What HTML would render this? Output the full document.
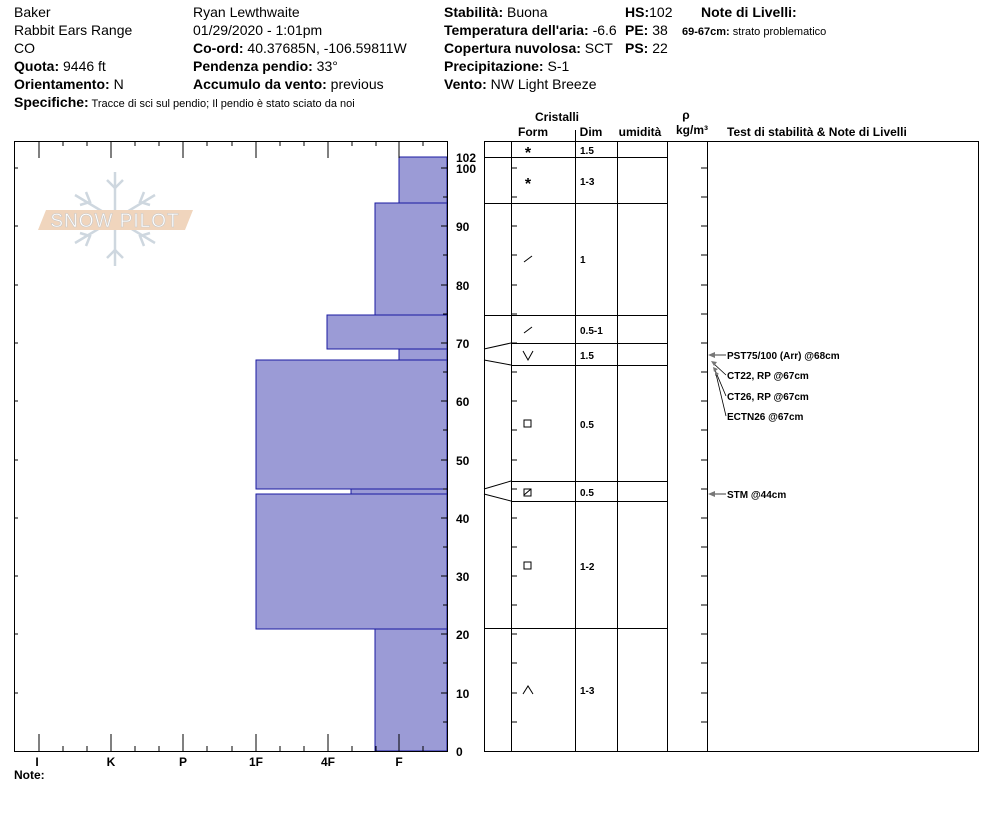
<!DOCTYPE html>
<html><head><meta charset="utf-8"><style>
body{margin:0;background:#fff;width:994px;height:840px;overflow:hidden}
svg{display:block}
text{font-family:"Liberation Sans",sans-serif;fill:#000}
.h{font-size:14px}
.b{font-weight:bold}
</style></head><body>
<svg width="994" height="840" viewBox="0 0 994 840">
<g class="h">
<text x="14" y="17">Baker</text>
<text x="14" y="35">Rabbit Ears Range</text>
<text x="14" y="53">CO</text>
<text x="14" y="71"><tspan class="b">Quota:</tspan> 9446 ft</text>
<text x="14" y="89"><tspan class="b">Orientamento:</tspan> N</text>
<text x="193" y="17">Ryan Lewthwaite</text>
<text x="193" y="35">01/29/2020 - 1:01pm</text>
<text x="193" y="53"><tspan class="b">Co-ord:</tspan> 40.37685N, -106.59811W</text>
<text x="193" y="71"><tspan class="b">Pendenza pendio:</tspan> 33°</text>
<text x="193" y="89"><tspan class="b">Accumulo da vento:</tspan> previous</text>
<text x="444" y="17"><tspan class="b">Stabilità:</tspan> Buona</text>
<text x="444" y="35"><tspan class="b">Temperatura dell'aria:</tspan> -6.6</text>
<text x="444" y="53"><tspan class="b">Copertura nuvolosa:</tspan> SCT</text>
<text x="444" y="71"><tspan class="b">Precipitazione:</tspan> S-1</text>
<text x="444" y="89"><tspan class="b">Vento:</tspan>  NW Light Breeze</text>
<text x="625" y="17"><tspan class="b">HS:</tspan>102</text>
<text x="625" y="35"><tspan class="b">PE:</tspan> 38</text>
<text x="625" y="53"><tspan class="b">PS:</tspan> 22</text>
<text x="701" y="17" class="b">Note di Livelli:</text>
</g>
<text x="14" y="107" font-size="14" font-weight="bold">Specifiche:<tspan font-size="11" font-weight="normal"> Tracce di sci sul pendio;  Il pendio è stato sciato da noi</tspan></text>
<text x="682" y="35" font-size="11"><tspan font-weight="bold">69-67cm:</tspan> strato problematico</text>

<g stroke="#c9d3dc" stroke-width="2.5" fill="none" opacity="0.9">
<line x1="115" y1="172" x2="115" y2="266"/>
<line x1="75" y1="195" x2="155" y2="243"/>
<line x1="75" y1="243" x2="155" y2="195"/>
<path d="M107 180 L115 188 L123 180 M107 258 L115 250 L123 258 M80 205 L90 202 L86 192 M150 233 L140 236 L144 246 M80 233 L90 236 L86 246 M150 205 L140 202 L144 192"/>
</g>
<polygon points="46,210 193,210 185,230 38,230" fill="#f0d5bd"/>
<text x="115" y="227" font-size="19" text-anchor="middle" style="fill:#fff;letter-spacing:1px" stroke="#c9c9c9" stroke-width="0.6">SNOW PILOT</text>

<g fill="#9b9bd6" stroke="#1a1aa0" stroke-width="1">
<rect x="399" y="157" width="48" height="46"/>
<rect x="375" y="203" width="72" height="112"/>
<rect x="327" y="315" width="120" height="34"/>
<rect x="399" y="349" width="48" height="11"/>
<rect x="256" y="360" width="191" height="129"/>
<rect x="351" y="489" width="96" height="5"/>
<rect x="256" y="494" width="191" height="135"/>
<rect x="375" y="629" width="72" height="122"/>
</g>
<g stroke="#000" stroke-width="1" fill="none">
<path d="M14.5 141.5 H447.5 V751.5 H14.5 Z"/>
<path d="M39 141v17M111 141v17M183 141v17M256 141v17M328 141v17M399 141v17
M63 141v5M87 141v5M135 141v5M159 141v5M207 141v5M232 141v5M280 141v5M304 141v5M352 141v5M376 141v5M423 141v5
M39 751v-17M111 751v-17M183 751v-17M256 751v-17M328 751v-17M399 751v-17
M63 751v-5M87 751v-5M135 751v-5M159 751v-5M207 751v-5M232 751v-5M280 751v-5M304 751v-5M352 751v-5M376 751v-5M423 751v-5"/>
<path d="M447 168h-6M447 226h-6M447 285h-6M447 343h-6M447 401h-6M447 460h-6M447 518h-6M447 576h-6M447 634h-6M447 693h-6
M447 197h-4M447 255h-4M447 314h-4M447 372h-4M447 430h-4M447 489h-4M447 547h-4M447 605h-4M447 663h-4M447 722h-4
M14 168h4M14 226h4M14 285h4M14 343h4M14 401h4M14 460h4M14 518h4M14 576h4M14 634h4M14 693h4"/>
</g>
<g font-size="12" font-weight="bold">
<text x="456" y="162">102</text><text x="456" y="173">100</text>
<text x="456" y="231">90</text><text x="456" y="290">80</text><text x="456" y="348">70</text>
<text x="456" y="406">60</text><text x="456" y="465">50</text><text x="456" y="523">40</text>
<text x="456" y="581">30</text><text x="456" y="639">20</text><text x="456" y="698">10</text>
<text x="456" y="756">0</text>
</g>
<g font-size="12" font-weight="bold" text-anchor="middle">
<text x="37" y="766">I</text><text x="111" y="766">K</text><text x="183" y="766">P</text>
<text x="256" y="766">1F</text><text x="328" y="766">4F</text><text x="399" y="766">F</text>
</g>
<text x="14" y="779" font-size="12" font-weight="bold">Note:</text>

<g font-size="12" font-weight="bold">
<text x="557" y="121" text-anchor="middle">Cristalli</text>
<text x="533" y="136" text-anchor="middle">Form</text>
<text x="591" y="136" text-anchor="middle">Dim</text>
<text x="640" y="136" text-anchor="middle">umidità</text>
<text x="686" y="119" text-anchor="middle">ρ</text>
<text x="692" y="134" text-anchor="middle">kg/m³</text>
<text x="727" y="136">Test di stabilità &amp; Note di Livelli</text>
</g>
<g stroke="#000" stroke-width="1" fill="none">
<path d="M484.5 141.5 H978.5 V751.5 H484.5 Z"/>
<path d="M511.5 141v610M575.5 141v610M617.5 141v610M667.5 141v610M707.5 141v610M575.5 130v11"/>
<path d="M484 157.5H667M484 203.5H667M484 315.5H667M511 343.5H667M511 365.5H667M511 481.5H667M511 501.5H667M484 628.5H667"/>
<path d="M484 349L511 343M484 360L511 365M484 489L511 481M484 494L511 501"/>
<path d="M511 168h6M511 197h6M511 226h6M511 255h6M511 285h6M511 314h6M511 343h6M511 372h6M511 401h6M511 430h6M511 460h6M511 489h6M511 518h6M511 547h6M511 576h6M511 605h6M511 634h6M511 663h6M511 693h6M511 722h6
M707 168h-6M707 197h-6M707 226h-6M707 255h-6M707 285h-6M707 314h-6M707 343h-6M707 372h-6M707 401h-6M707 430h-6M707 460h-6M707 489h-6M707 518h-6M707 547h-6M707 576h-6M707 605h-6M707 634h-6M707 663h-6M707 693h-6M707 722h-6"/>
<path d="M524 262L532 256M524 333L532 327M523 351L528 360L533 351M524 420h7v7h-7zM524 489h7v7h-7zM524 495L531 489M524 562h7v7h-7zM523 694L528 686L533 694"/>
</g>
<g font-size="16" font-weight="bold" text-anchor="middle"><text x="528" y="158">*</text><text x="528" y="189">*</text></g>
<g font-size="10" font-weight="bold">
<text x="580" y="154">1.5</text><text x="580" y="185">1-3</text><text x="580" y="263">1</text>
<text x="580" y="334">0.5-1</text><text x="580" y="359">1.5</text><text x="580" y="428">0.5</text>
<text x="580" y="496">0.5</text><text x="580" y="570">1-2</text><text x="580" y="694">1-3</text>
</g>
<g stroke="#000" stroke-width="0.8" fill="none">
<path d="M726 355H712M726 375L713 363M726 396L715 370M726 416L716 374M726 494H712"/>
</g>
<g fill="#777">
<path d="M708 355l7-3v6z"/><path d="M711 361l6 1-3 4z"/><path d="M713 367l5 2-4 3z"/><path d="M715 371l4 3-4 2z"/><path d="M708 494l7-3v6z"/>
</g>
<g font-size="10" font-weight="bold">
<text x="727" y="359">PST75/100 (Arr) @68cm</text>
<text x="727" y="379">CT22, RP @67cm</text>
<text x="727" y="400">CT26, RP @67cm</text>
<text x="727" y="420">ECTN26 @67cm</text>
<text x="727" y="498">STM @44cm</text>
</g>
</svg>
</body></html>
